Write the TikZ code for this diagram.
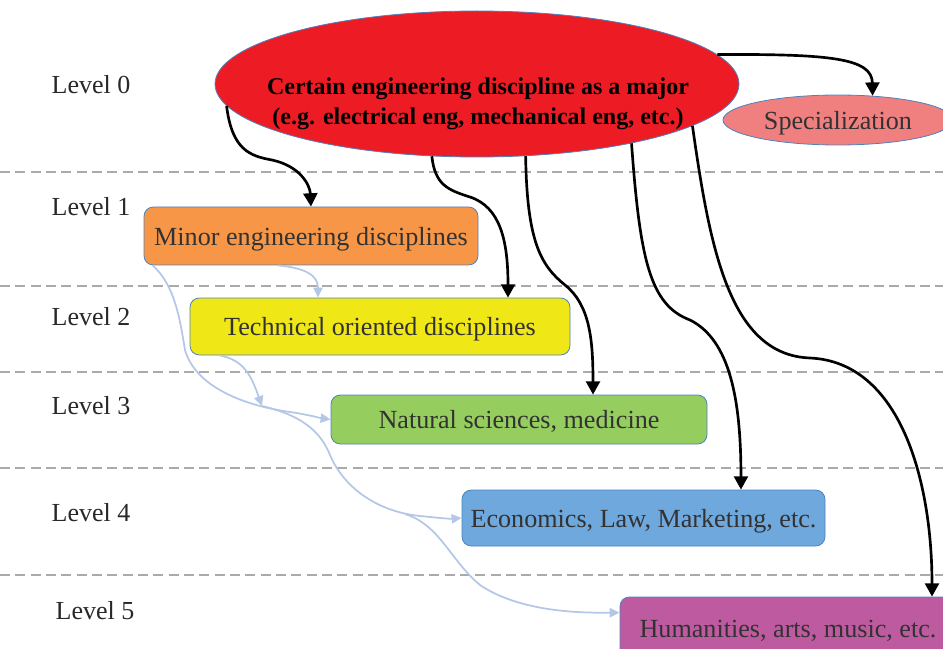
\documentclass[tikz,border=0pt]{standalone}
\usepackage{fontspec}
\setmainfont{Liberation Serif}
\usetikzlibrary{arrows.meta,shapes.geometric}
\definecolor{redc}{RGB}{237,28,36}
\definecolor{specc}{RGB}{240,128,128}
\definecolor{orangec}{RGB}{247,150,70}
\definecolor{yellowc}{RGB}{240,232,22}
\definecolor{greenc}{RGB}{150,205,95}
\definecolor{bluec}{RGB}{111,168,220}
\definecolor{magc}{RGB}{190,90,160}
\definecolor{bordc}{RGB}{79,129,189}
\definecolor{lbc}{RGB}{180,199,231}
\definecolor{txtc}{RGB}{50,50,50}
\definecolor{lvlc}{RGB}{40,40,40}
\definecolor{sepc}{RGB}{170,170,170}
\begin{document}
\begin{tikzpicture}[x=0.75pt,y=-0.75pt,
  box/.style={draw=bordc, line width=0.6pt, rounded corners=7pt, text=txtc, font=\fontsize{19.6}{23}\selectfont, inner sep=0pt, text depth=0pt},
  lvl/.style={text=lvlc, font=\fontsize{19.5}{23}\selectfont},
  blk/.style={line width=2pt, -{Triangle[width=10.5pt,length=10pt]}},
  lb/.style={draw=lbc, line width=1.3pt, -{Triangle[width=7pt,length=7.5pt]}},
  sep/.style={draw=sepc, line width=0.8pt, dash pattern=on 7.5pt off 4pt}]
\useasboundingbox (0,0) rectangle (943,649);
\clip (0,0) rectangle (943,649);
\foreach \yy in {172,286,372,468,575} \draw[sep] (0,\yy) -- (943,\yy);

% levels
\node[lvl] (l0) at (91,85) {Level 0};
\node[lvl] (l1) at (91,207) {Level 1};
\node[lvl] (l2) at (91,317) {Level 2};
\node[lvl] (l3) at (91,406) {Level 3};
\node[lvl] (l4) at (91,513) {Level 4};
\node[lvl] (l5) at (95,611) {Level 5};

% main ellipse
\node[ellipse, draw=bordc, line width=0.6pt, fill=redc, minimum width=393pt, minimum height=109.5pt, inner sep=0pt] (main) at (477,84) {};
\node[font=\bfseries\fontsize{18}{22.5}\selectfont, align=center, text=black] (maintext) at (478,103.5) {Certain engineering discipline as a major\\(e.g. electrical eng, mechanical eng, etc.)};
\node[ellipse, draw=bordc, line width=0.6pt, fill=specc, minimum width=172.5pt, minimum height=37.5pt, inner sep=0pt, text depth=0pt, text=txtc, font=\fontsize{19.6}{23}\selectfont] (spec) at (838,120) {Specialization};

% boxes
\node[box, fill=orangec, minimum width=250.5pt, minimum height=43.5pt] (minor) at (311,236) {Minor engineering disciplines};
\node[box, fill=yellowc, minimum width=285pt, minimum height=42.75pt] (tech) at (380,326.5) {Technical oriented disciplines};
\node[box, fill=greenc, minimum width=282pt, minimum height=36.75pt] (nat) at (519,419.5) {Natural sciences, medicine};
\node[box, fill=bluec, minimum width=272.25pt, minimum height=42pt] (eco) at (643.5,518) {Economics, Law, Marketing, etc.};
\node[box, fill=magc, minimum width=252pt, minimum height=47.25pt] (hum) at (788,628.5) {Humanities, arts, music, etc.};

% light blue connectors
\coordinate (b1) at (262,406);
\coordinate (b2) at (405,514);
\draw[lb] ([xshift=-24.75pt]minor.south) .. controls (305,268) and (318,275) .. ([xshift=-46.5pt]tech.north);
\draw[lb] ([xshift=6.75pt]minor.south west) .. controls (175,285) and (180,320) .. (185,350) .. controls (195,385) and (240,405) .. (290,412) .. controls (310,415) and (320,418) .. (nat.west);
\draw[lb] ([xshift=22.5pt]tech.south west) .. controls (245,360) and (252,378) .. (b1);
\draw[lb] (b1) .. controls (300,415) and (320,430) .. (330,455) .. controls (345,490) and (380,512) .. (420,516) .. controls (440,518) and (450,519) .. (eco.west);
\draw[lb] (b2) .. controls (440,525) and (450,560) .. (480,585) .. controls (520,612) and (580,613) .. ([yshift=-12pt]hum.north west);

% black connectors
\draw[blk] (main.185) .. controls (232,150) and (250,156) .. (272,160) .. controls (300,166) and (310,185) .. (minor.north);
\draw[blk] (main.238) .. controls (435,185) and (448,190) .. (470,197) .. controls (500,207) and (508,240) .. ([xshift=96pt]tech.north);
\draw[blk] (main.304) .. controls (527,240) and (540,265) .. (565,285) .. controls (590,305) and (593,340) .. ([xshift=55.5pt]nat.north);
\draw[blk] (main.339) .. controls (640,260) and (650,305) .. (690,320) .. controls (730,340) and (741,400) .. ([xshift=73.1pt]eco.north);
\draw[blk] (main.349.5) .. controls (710,250) and (730,355) .. (810,358) .. controls (900,362) and (932,480) .. ([xshift=108pt]hum.north);
\draw[blk] (main.7) .. controls (830,54) and (872,58) .. (spec.35);
\end{tikzpicture}
\end{document}
